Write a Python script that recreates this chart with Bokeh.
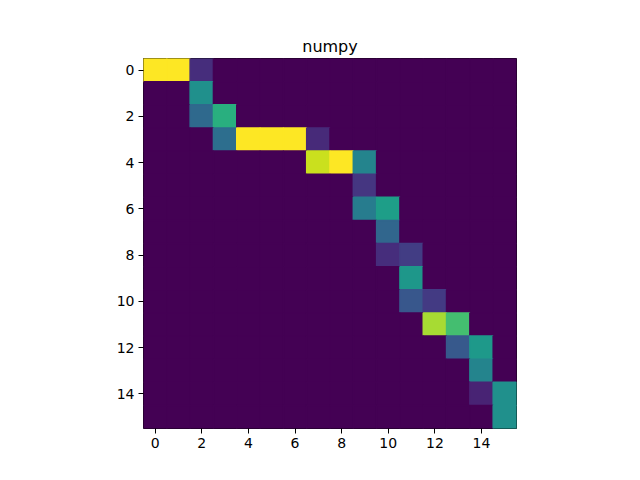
from bokeh.plotting import figure
from bokeh.models import Range1d, FixedTicker, LinearColorMapper, ColumnDataSource
from bokeh.palettes import Viridis256
from bokeh.embed import file_html
from bokeh.resources import INLINE

# 16x16 matrix values (rows top to bottom)
matrix = [
    [1.00, 1.00, 0.13, 0, 0, 0, 0, 0, 0, 0, 0, 0, 0, 0, 0, 0],
    [0, 0, 0.50, 0, 0, 0, 0, 0, 0, 0, 0, 0, 0, 0, 0, 0],
    [0, 0, 0.34, 0.63, 0, 0, 0, 0, 0, 0, 0, 0, 0, 0, 0, 0],
    [0, 0, 0, 0.36, 1.00, 1.00, 1.00, 0.12, 0, 0, 0, 0, 0, 0, 0, 0],
    [0, 0, 0, 0, 0, 0, 0, 0.92, 1.00, 0.45, 0, 0, 0, 0, 0, 0],
    [0, 0, 0, 0, 0, 0, 0, 0, 0, 0.16, 0, 0, 0, 0, 0, 0],
    [0, 0, 0, 0, 0, 0, 0, 0, 0, 0.42, 0.56, 0, 0, 0, 0, 0],
    [0, 0, 0, 0, 0, 0, 0, 0, 0, 0, 0.33, 0, 0, 0, 0, 0],
    [0, 0, 0, 0, 0, 0, 0, 0, 0, 0, 0.13, 0.18, 0, 0, 0, 0],
    [0, 0, 0, 0, 0, 0, 0, 0, 0, 0, 0, 0.53, 0, 0, 0, 0],
    [0, 0, 0, 0, 0, 0, 0, 0, 0, 0, 0, 0.27, 0.17, 0, 0, 0],
    [0, 0, 0, 0, 0, 0, 0, 0, 0, 0, 0, 0, 0.87, 0.70, 0, 0],
    [0, 0, 0, 0, 0, 0, 0, 0, 0, 0, 0, 0, 0, 0.28, 0.54, 0],
    [0, 0, 0, 0, 0, 0, 0, 0, 0, 0, 0, 0, 0, 0, 0.45, 0],
    [0, 0, 0, 0, 0, 0, 0, 0, 0, 0, 0, 0, 0, 0, 0.10, 0.50],
    [0, 0, 0, 0, 0, 0, 0, 0, 0, 0, 0, 0, 0, 0, 0, 0.50],
]
tick_values = [0, 2, 4, 6, 8, 10, 12, 14]
title_text = "numpy"

xs, ys, vs = [], [], []
for r, row in enumerate(matrix):
    for c, v in enumerate(row):
        xs.append(c)
        ys.append(r)
        vs.append(v)
src = ColumnDataSource(dict(x=xs, y=ys, v=vs))

n = len(matrix)
p = figure(width=624, height=464, output_backend="svg", toolbar_location=None,
           x_range=Range1d(-0.5, n - 0.5), y_range=Range1d(n - 0.5, -0.5),
           title=title_text, min_border_left=143, min_border_right=108,
           min_border_top=58, min_border_bottom=36)
mapper = LinearColorMapper(palette=Viridis256, low=0, high=1)
cmap = {"field": "v", "transform": mapper}
p.rect(x="x", y="y", width=1, height=1, source=src,
       fill_color=cmap, line_color=cmap, line_width=1.5)

p.grid.visible = False
p.outline_line_color = "black"
p.outline_line_width = 1
p.background_fill_color = "white"
p.border_fill_color = "white"
p.title.align = "center"
p.title.text_font = "DejaVu Sans"
p.title.text_font_size = "16px"
p.title.text_font_style = "normal"
p.title.text_color = "black"
p.title.standoff = 6
for ax in (p.xaxis[0], p.yaxis[0]):
    ax.ticker = FixedTicker(ticks=tick_values)
    ax.axis_line_color = None
    ax.minor_tick_line_color = None
    ax.major_tick_out = 5
    ax.major_tick_in = 0
    ax.major_tick_line_color = "black"
    ax.major_label_text_font = "DejaVu Sans"
    ax.major_label_text_font_size = "14px"
    ax.major_label_text_color = "black"
    ax.major_label_standoff = 4

open("out.html", "w").write(file_html(p, INLINE))
